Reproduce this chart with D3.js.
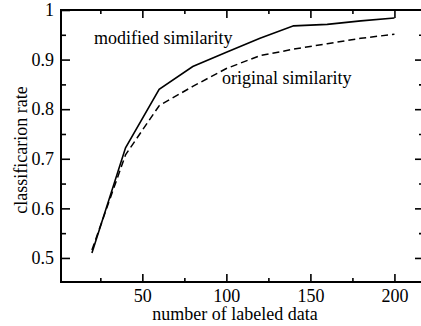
<!DOCTYPE html>
<html>
<head>
<meta charset="utf-8">
<script src="https://cdn.jsdelivr.net/npm/d3@7"></script>
<style>
  html, body { margin: 0; padding: 0; background: #fff; }
  svg { display: block; }
  text { font-family: "Liberation Serif", "Times New Roman", serif; fill: #000; }
</style>
</head>
<body>
<svg id="chart" width="421" height="326"></svg>
<script>
// Number of labeled samples used for training
const labeledCounts = [20, 40, 60, 80, 100, 120, 140, 160, 180, 200];
// Classification rate with the modified similarity measure
const modifiedRate = [0.510, 0.722, 0.840, 0.886, 0.915, 0.943, 0.968, 0.971, 0.978, 0.984];
// Classification rate with the original similarity measure
const originalRate = [0.516, 0.708, 0.807, 0.846, 0.882, 0.908, 0.921, 0.932, 0.943, 0.951];

// Axis ticks
const xMajorTicks = [50, 100, 150, 200];
const xMinorTicks = [25, 75, 125, 175];
const yMajorTicks = [0.5, 0.6, 0.7, 0.8, 0.9, 1];
const yMinorTicks = [0.55, 0.65, 0.75, 0.85, 0.95];

const svg = d3.select("#chart");
const plotLeft = 61, plotRight = 423, plotTop = 10, plotBottom = 282;

const x = d3.scaleLinear().domain([1.6, 217]).range([plotLeft, plotRight]);
const y = d3.scaleLinear().domain([0.4515, 1.0]).range([plotBottom, plotTop]);

const fmtY = v => (v === 1 ? "1" : d3.format(".1f")(v));
const fontSize = 18;

// Bottom axis: inward ticks, labels below
svg.append("g").attr("transform", `translate(0,${plotBottom})`)
  .call(d3.axisBottom(x).tickValues(xMajorTicks).tickSize(-8).tickPadding(7).tickFormat(d3.format("d")));
svg.append("g").attr("transform", `translate(0,${plotBottom})`)
  .call(d3.axisBottom(x).tickValues(xMinorTicks).tickSize(-4).tickFormat(""));

// Top axis: inward ticks, no labels
svg.append("g").attr("transform", `translate(0,${plotTop})`)
  .call(d3.axisTop(x).tickValues(xMajorTicks).tickSize(-8).tickFormat(""));
svg.append("g").attr("transform", `translate(0,${plotTop})`)
  .call(d3.axisTop(x).tickValues(xMinorTicks).tickSize(-4).tickFormat(""));

// Left axis: inward ticks, labels to the left
svg.append("g").attr("transform", `translate(${plotLeft},0)`)
  .call(d3.axisLeft(y).tickValues(yMajorTicks).tickSize(-9).tickPadding(7).tickFormat(fmtY));
svg.append("g").attr("transform", `translate(${plotLeft},0)`)
  .call(d3.axisLeft(y).tickValues(yMinorTicks).tickSize(-5).tickFormat(""));

// Right axis: inward ticks, no labels
svg.append("g").attr("transform", `translate(${plotRight},0)`)
  .call(d3.axisRight(y).tickValues(yMajorTicks.filter(v => v < 1)).tickSize(-8).tickFormat(""));
svg.append("g").attr("transform", `translate(${plotRight},0)`)
  .call(d3.axisRight(y).tickValues(yMinorTicks).tickSize(-4).tickFormat(""));

svg.selectAll(".domain").remove();
svg.selectAll(".tick line").attr("stroke", "#000").attr("stroke-width", 1.6);
svg.selectAll(".tick text")
  .style("font-family", '"Liberation Serif", "Times New Roman", serif')
  .style("font-size", fontSize + "px")
  .attr("fill", "#000");

// Plot frame
svg.append("rect")
  .attr("x", plotLeft).attr("y", plotTop)
  .attr("width", plotRight - plotLeft).attr("height", plotBottom - plotTop)
  .attr("fill", "none").attr("stroke", "#000").attr("stroke-width", 2);

// Curves
const line = d3.line().x(d => x(d[0])).y(d => y(d[1]));

svg.append("path")
  .datum(labeledCounts.map((c, i) => [c, originalRate[i]]))
  .attr("d", line)
  .attr("fill", "none").attr("stroke", "#000")
  .attr("stroke-width", 1.5).attr("stroke-dasharray", "7,4");

svg.append("path")
  .datum(labeledCounts.map((c, i) => [c, modifiedRate[i]]))
  .attr("d", line)
  .attr("fill", "none").attr("stroke", "#000")
  .attr("stroke-width", 1.6);

// Curve labels
svg.append("text").attr("x", 94).attr("y", 44)
  .style("font-size", fontSize + "px").text("modified similarity");
svg.append("text").attr("x", 222).attr("y", 84)
  .style("font-size", fontSize + "px").text("original similarity");

// Axis titles
svg.append("text")
  .attr("x", (plotLeft + plotRight) / 2 - 7).attr("y", 320)
  .attr("text-anchor", "middle")
  .style("font-size", fontSize + "px")
  .text("number of labeled data");

svg.append("text")
  .attr("transform", `translate(27,${(plotTop + plotBottom) / 2 + 4}) rotate(-90)`)
  .attr("text-anchor", "middle")
  .style("font-size", fontSize + "px")
  .text("classificarion rate");
</script>
</body>
</html>
